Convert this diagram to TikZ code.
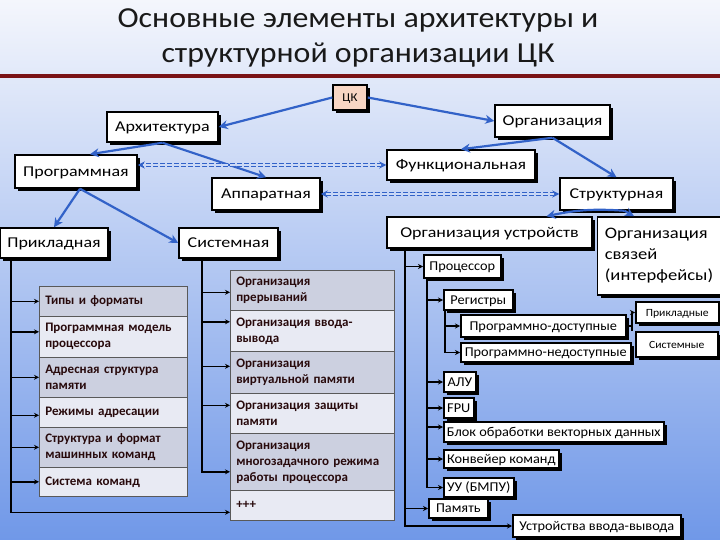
\documentclass[tikz,border=0pt]{standalone}
\usepackage{fontspec}
\setmainfont{Carlito}
\newfontfamily\widefont[FakeStretch=1.2]{Carlito}
\newfontfamily\midfont[FakeStretch=1.16]{Carlito}
\newfontfamily\treefont[FakeStretch=1.06]{Carlito}
\newfontfamily\titlefont[FakeStretch=1.1]{Carlito}
\usetikzlibrary{arrows.meta,shadows}
\definecolor{bgtop}{RGB}{244,246,252}
\definecolor{bgbot}{RGB}{112,152,232}
\definecolor{dblue}{RGB}{50,98,200}
\definecolor{redline}{RGB}{122,18,22}
\definecolor{rowA}{RGB}{204,208,224}
\definecolor{rowB}{RGB}{232,234,243}
\definecolor{rowtext}{RGB}{40,10,12}
\definecolor{peach}{RGB}{248,214,196}
\begin{document}
\begin{tikzpicture}[x=1pt,y=-1pt,
  shad/.style={drop shadow={shadow xshift=3pt,shadow yshift=-3pt,fill=black,opacity=1}},
  box/.style={draw=black,line width=1.5pt,fill=white,inner sep=1pt,shad,text height=9.7pt,text depth=0pt,
     font=\widefont\fontsize{15}{18}\selectfont},
  tbox/.style={draw=black,line width=1.6pt,fill=white,inner sep=1pt,anchor=west,shad,text height=8.7pt,text depth=0pt,
     font=\treefont\fontsize{13.5}{16}\selectfont},
  rowL/.style={draw=gray!70!black,line width=0.6pt,anchor=north west,align=left,inner xsep=6pt,inner ysep=0pt,
     text width=136pt,text=rowtext,font=\bfseries\fontsize{13}{16}\selectfont},
  rowR/.style={rowL,text width=152pt,inner xsep=6pt},
  barrow/.style={draw=dblue,line width=2.2pt,-{Stealth[length=9pt,width=9pt]}},
  darrow/.style={draw=dblue,line width=1.2pt,double=bgtop!70!bgbot,double distance=2pt,dash pattern=on 5pt off 2pt,
     {Stealth[length=7pt,width=7pt]}-{Stealth[length=7pt,width=7pt]}},
  blk/.style={draw=black,line width=1.4pt,-{Stealth[length=5pt,width=5pt]}},
  blkline/.style={draw=black,line width=1.4pt}
]
\useasboundingbox (0,0) rectangle (720,540);
\shade[top color=bgtop,bottom color=bgbot] (0,0) rectangle (720,540);

% title
\node[align=center,text=black!90,font=\titlefont\fontsize{29}{35}\selectfont] (title) at (358,38)
  {Основные элементы архитектуры и\\структурной организации ЦК};
\coordinate (rl1) at (0,76);
\coordinate (rl2) at (720,76);
\draw[redline,line width=4.5pt] (rl1) -- (rl2);

% main boxes
\node[box,fill=peach,minimum width=34pt,minimum height=25pt,text height=7.8pt,font=\treefont\fontsize{12}{14}\selectfont] (ck) at (350,97.5) {ЦК};
\node[box,minimum width=111pt,minimum height=30pt] (arch) at (162.5,127) {Архитектура};
\node[box,minimum width=115pt,minimum height=32pt] (org) at (552.5,121) {Организация};
\node[box,minimum width=122pt,minimum height=33pt] (prog) at (76,171.5) {Программная};
\node[box,minimum width=148pt,minimum height=30pt] (func) at (461,165) {Функциональная};
\node[box,minimum width=108pt,minimum height=32pt] (app) at (266,194) {Аппаратная};
\node[box,minimum width=113pt,minimum height=32pt] (str) at (616.5,194) {Структурная};
\node[box,minimum width=108pt,minimum height=30pt] (prik) at (54,243) {Прикладная};
\node[box,minimum width=99pt,minimum height=30pt] (sist) at (228.5,243) {Системная};
\node[box,minimum width=205pt,minimum height=31pt] (ou) at (489.5,232.5) {Организация устройств};
\node[box,minimum width=123pt,minimum height=78pt,align=left,text height=,text depth=,font=\midfont\fontsize{16}{21}\selectfont] (svz) at (659,256)
  {Организация\\связей\\(интерфейсы)};

% blue arrows
\draw[barrow] (ck.west) -- (arch.east);
\draw[barrow] (ck.east) -- (org.west);
\draw[barrow] (arch.south) -- ([xshift=14pt]prog.north);
\draw[barrow] (arch.south) -- (app.north);
\draw[barrow] ([xshift=4pt]prog.south) -- (prik.north);
\draw[barrow] ([xshift=4pt]prog.south) -- (sist.west);
\draw[barrow] (org.south) -- (func.north);
\draw[barrow] (org.south) -- (str.north);
\draw[barrow] ([xshift=8pt]str.south) to[bend right=8] ([xshift=57pt]ou.north);
\draw[barrow] ([xshift=8pt]str.south) -- ([xshift=-25pt]svz.north);

% dashed double arrows
\draw[darrow] (func.west) -- (func.west -| prog.east);
\draw[darrow] (str.west) -- (str.west -| app.east);

% left table
\node[rowL,fill=rowA,minimum height=30pt] (t1) at (39,286) {Типы и форматы};
\node[rowL,fill=rowB,minimum height=41pt] (t2) at (39,316) {Программная модель\\процессора};
\node[rowL,fill=rowA,minimum height=40pt] (t3) at (39,357) {Адресная структура\\памяти};
\node[rowL,fill=rowB,minimum height=30pt] (t4) at (39,397) {Режимы адресации};
\node[rowL,fill=rowA,minimum height=40pt] (t5) at (39,427) {Структура и формат\\машинных команд};
\node[rowL,fill=rowB,minimum height=29pt] (t6) at (39,467) {Система команд};

% right table
\node[rowR,fill=rowA,minimum height=40pt] (s1) at (230,270) {Организация\\прерываний};
\node[rowR,fill=rowB,minimum height=41pt] (s2) at (230,310) {Организация ввода-\\вывода};
\node[rowR,fill=rowA,minimum height=42pt] (s3) at (230,351) {Организация\\виртуальной памяти};
\node[rowR,fill=rowB,minimum height=40pt] (s4) at (230,393) {Организация защиты\\памяти};
\node[rowR,fill=rowA,minimum height=57pt] (s5) at (230,433) {Организация\\многозадачного режима\\работы процессора};
\node[rowR,fill=rowB,minimum height=30pt] (s6) at (230,490) {+++};

% left table connectors
\coordinate (lt) at (11,258);
\draw[blk] (lt) |- (t1.west);
\draw[blk] (lt) |- ([yshift=5pt]t2.west);
\draw[blk] (lt) |- (t3.west);
\draw[blk] (lt) |- ([yshift=-3pt]t4.west);
\draw[blk] (lt) |- (t5.west);
\draw[blk] (lt) |- (t6.west);
\draw[blk] (lt) |- ([yshift=-7pt]s6.west);

% right table connectors
\coordinate (rt) at (202,258);
\draw[blk] (rt) |- ([yshift=-2pt]s1.west);
\draw[blk] (rt) |- ([yshift=9pt]s2.west);
\draw[blk] (rt) |- ([yshift=6pt]s3.west);
\draw[blk] (rt) |- ([yshift=8pt]s4.west);
\draw[blk] (rt) |- ([yshift=-10pt]s5.west);

% device tree
\node[tbox,minimum width=77pt,minimum height=23pt] (proc) at (423,266.5) {Процессор};
\node[tbox,minimum width=69pt,minimum height=20pt] (reg) at (443,300) {Регистры};
\node[tbox,minimum width=165pt,minimum height=22pt] (pd) at (460,326) {Программно-доступные};
\node[tbox,minimum width=170pt,minimum height=19pt] (pn) at (460,352.5) {Программно-недоступные};
\node[tbox,minimum width=83pt,minimum height=21pt,text height=7.1pt,font=\treefont\fontsize{11}{13}\selectfont] (prr) at (635,312.5) {Прикладные};
\node[tbox,minimum width=82pt,minimum height=25pt,text height=7.1pt,font=\treefont\fontsize{11}{13}\selectfont] (sysr) at (635,344.5) {Системные};
\node[tbox,minimum width=32pt,minimum height=20pt] (alu) at (443,382) {АЛУ};
\node[tbox,minimum width=30pt,minimum height=20pt] (fpu) at (443,408) {FPU};
\node[tbox,minimum width=220pt,minimum height=20pt] (vec) at (443,432) {Блок обработки векторных данных};
\node[tbox,minimum width=115pt,minimum height=18pt] (conv) at (443,459) {Конвейер команд};
\node[tbox,minimum width=70pt,minimum height=19pt] (uu) at (443,487.5) {УУ (БМПУ)};
\node[tbox,minimum width=59pt,minimum height=19pt] (mem) at (428,508.5) {Память};
\node[tbox,minimum width=168pt,minimum height=22pt] (io) at (512,526) {Устройства ввода-вывода};

\coordinate (t0) at (405,248);
\draw[blk] (t0) |- (proc.west);
\draw[blk] (t0) |- (mem.west);
\draw[blk] (t0) |- (io.west);
\coordinate (p0) at (427,278);
\draw[blk] (p0) |- (reg.west);
\draw[blk] (p0) |- (alu.west);
\draw[blk] (p0) |- (fpu.west);
\draw[blk] (p0) |- ([yshift=5pt]vec.west);
\draw[blk] (p0) |- (conv.west);
\draw[blk] (p0) |- (uu.west);
\coordinate (r0) at (445,310);
\draw[blk] (r0) |- (pd.west);
\draw[blk] (r0) |- (pn.west);
\coordinate (pj) at (632,326);
\draw[blkline] (pd.east) -- (pj);
\draw[blk] (pj) |- (prr.west);
\draw[blkline] (pj) -- (sysr.north -| pj);
\end{tikzpicture}
\end{document}
